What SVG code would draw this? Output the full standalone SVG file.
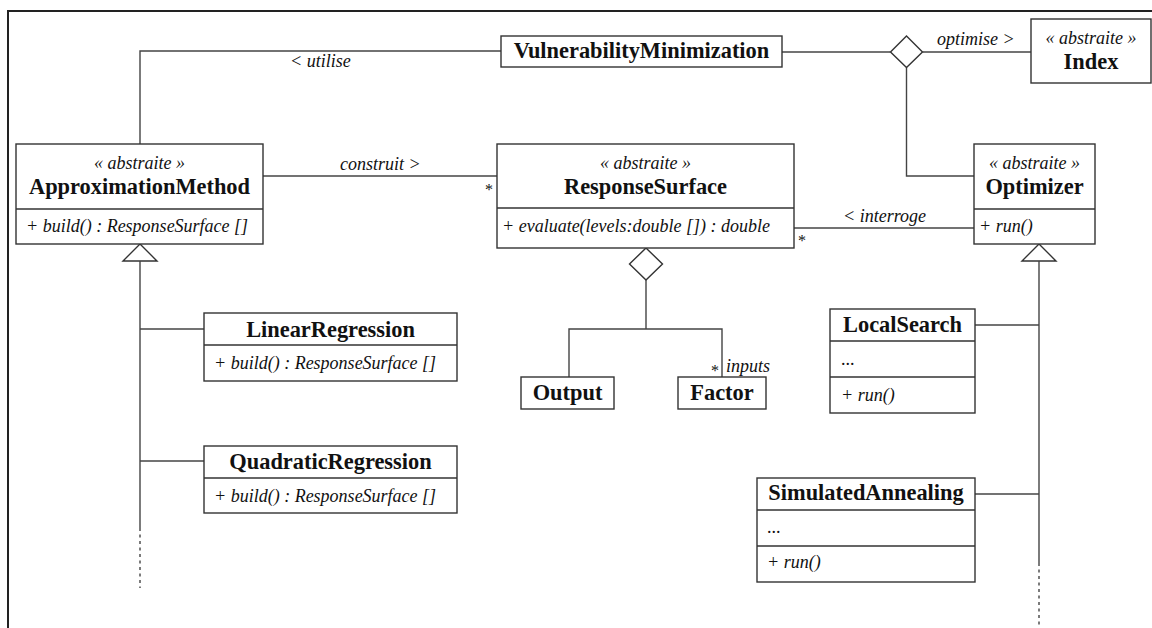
<svg xmlns="http://www.w3.org/2000/svg" width="1152" height="628" viewBox="0 0 1152 628" font-family="'Liberation Serif', 'Times New Roman', serif">
  <style>
    .box { fill: #fff; stroke: #333; stroke-width: 1.4; }
    .sep { stroke: #333; stroke-width: 1.4; fill: none; }
    .ln { stroke: #444; stroke-width: 1.4; fill: none; }
    .dash { stroke: #444; stroke-width: 1.4; fill: none; stroke-dasharray: 3 3.5; }
    .frame { stroke: #222; stroke-width: 2; fill: none; }
    text { font-family: 'Liberation Serif', 'Times New Roman', serif; fill: #111; }
    .title { font-size: 22.4px; font-weight: bold; text-anchor: middle; }
    .stereo { font-size: 18px; font-style: italic; text-anchor: middle; }
    .op { font-size: 18px; font-style: italic; }
    .lbl { font-size: 18px; font-style: italic; }
    .plain { font-size: 18px; }
    .mult { font-size: 16px; text-anchor: middle; }
  </style>

  <!-- package frame -->
  <path class="frame" d="M8,628 V11 H1152"/>

  <!-- associations, aggregations and generalisations -->
  <g id="connectors">
    <path class="ln" d="M140,144 V51 H501"/>
    <text class="lbl" x="290" y="67">&lt; utilise</text>

    <path class="ln" d="M782,52 H890.5"/>
    <path class="ln" d="M922.5,52 H1031"/>
    <path class="ln" d="M906.5,67.5 V176 H974"/>
    <polygon class="box" points="906.5,36 922.5,52 906.5,67.5 890.5,52"/>
    <text class="lbl" x="937" y="45">optimise &gt;</text>

    <path class="ln" d="M263,176 H497"/>
    <text class="lbl" x="340" y="170">construit &gt;</text>
    <text class="mult" x="489" y="195">*</text>

    <path class="ln" d="M794,228 H974"/>
    <text class="lbl" x="843" y="222">&lt; interroge</text>
    <text class="mult" x="802" y="246">*</text>

    <polygon class="box" points="646,248 662.5,264 646,280 629.5,264"/>
    <path class="ln" d="M646,280 V329"/>
    <path class="ln" d="M569,377 V329 H722 V377"/>
    <text class="mult" x="715" y="376">*</text>
    <text class="lbl" x="726" y="372">inputs</text>

    <polygon class="box" points="140,244 157,261 123,261"/>
    <path class="ln" d="M140,261 V528"/>
    <path class="dash" d="M140,528 V588"/>
    <path class="ln" d="M140,329 H204"/>
    <path class="ln" d="M140,461 H204"/>

    <polygon class="box" points="1039,244 1056,261 1022,261"/>
    <path class="ln" d="M1039,261 V563"/>
    <path class="dash" d="M1039,563 V626"/>
    <path class="ln" d="M975,325 H1039"/>
    <path class="ln" d="M975,494 H1039"/>
  </g>

  <g id="VulnerabilityMinimization">
    <rect class="box" x="501" y="36" width="281" height="31"/>
    <text class="title" x="641.5" y="58">VulnerabilityMinimization</text>
  </g>

  <g id="Index">
    <rect class="box" x="1031" y="19" width="120" height="64"/>
    <text class="stereo" x="1091" y="44">« abstraite »</text>
    <text class="title" x="1091" y="69">Index</text>
  </g>

  <g id="ApproximationMethod">
    <rect class="box" x="16" y="144" width="247" height="100"/>
    <path class="sep" d="M16,209 H263"/>
    <text class="stereo" x="139.5" y="169">« abstraite »</text>
    <text class="title" x="139.5" y="194">ApproximationMethod</text>
    <text class="op" x="26" y="232">+ build() : ResponseSurface []</text>
  </g>

  <g id="ResponseSurface">
    <rect class="box" x="497" y="144" width="297" height="104"/>
    <path class="sep" d="M497,208 H794"/>
    <text class="stereo" x="645.5" y="169">« abstraite »</text>
    <text class="title" x="645.5" y="194">ResponseSurface</text>
    <text class="op" x="502" y="232">+ evaluate(levels:double []) : double</text>
  </g>

  <g id="Optimizer">
    <rect class="box" x="974" y="144" width="121" height="100"/>
    <path class="sep" d="M974,209 H1095"/>
    <text class="stereo" x="1034.5" y="169">« abstraite »</text>
    <text class="title" x="1034.5" y="194">Optimizer</text>
    <text class="op" x="979" y="232">+ run()</text>
  </g>

  <g id="LinearRegression">
    <rect class="box" x="204" y="313" width="253" height="68"/>
    <path class="sep" d="M204,345 H457"/>
    <text class="title" x="330.5" y="337">LinearRegression</text>
    <text class="op" x="214" y="369">+ build() : ResponseSurface []</text>
  </g>

  <g id="QuadraticRegression">
    <rect class="box" x="204" y="446" width="253" height="67"/>
    <path class="sep" d="M204,478 H457"/>
    <text class="title" x="330.5" y="469">QuadraticRegression</text>
    <text class="op" x="214" y="502">+ build() : ResponseSurface []</text>
  </g>

  <g id="Output">
    <rect class="box" x="521" y="377" width="93" height="32"/>
    <text class="title" x="567.5" y="400">Output</text>
  </g>

  <g id="Factor">
    <rect class="box" x="678" y="377" width="88" height="32"/>
    <text class="title" x="722" y="400">Factor</text>
  </g>

  <g id="LocalSearch">
    <rect class="box" x="830" y="309" width="145" height="104"/>
    <path class="sep" d="M830,341 H975 M830,377 H975"/>
    <text class="title" x="902.5" y="332">LocalSearch</text>
    <text class="plain" x="841" y="365">...</text>
    <text class="op" x="841" y="401">+ run()</text>
  </g>

  <g id="SimulatedAnnealing">
    <rect class="box" x="757" y="478" width="218" height="104"/>
    <path class="sep" d="M757,510 H975 M757,546 H975"/>
    <text class="title" x="866" y="500">SimulatedAnnealing</text>
    <text class="plain" x="767" y="533">...</text>
    <text class="op" x="767" y="568">+ run()</text>
  </g>
</svg>
